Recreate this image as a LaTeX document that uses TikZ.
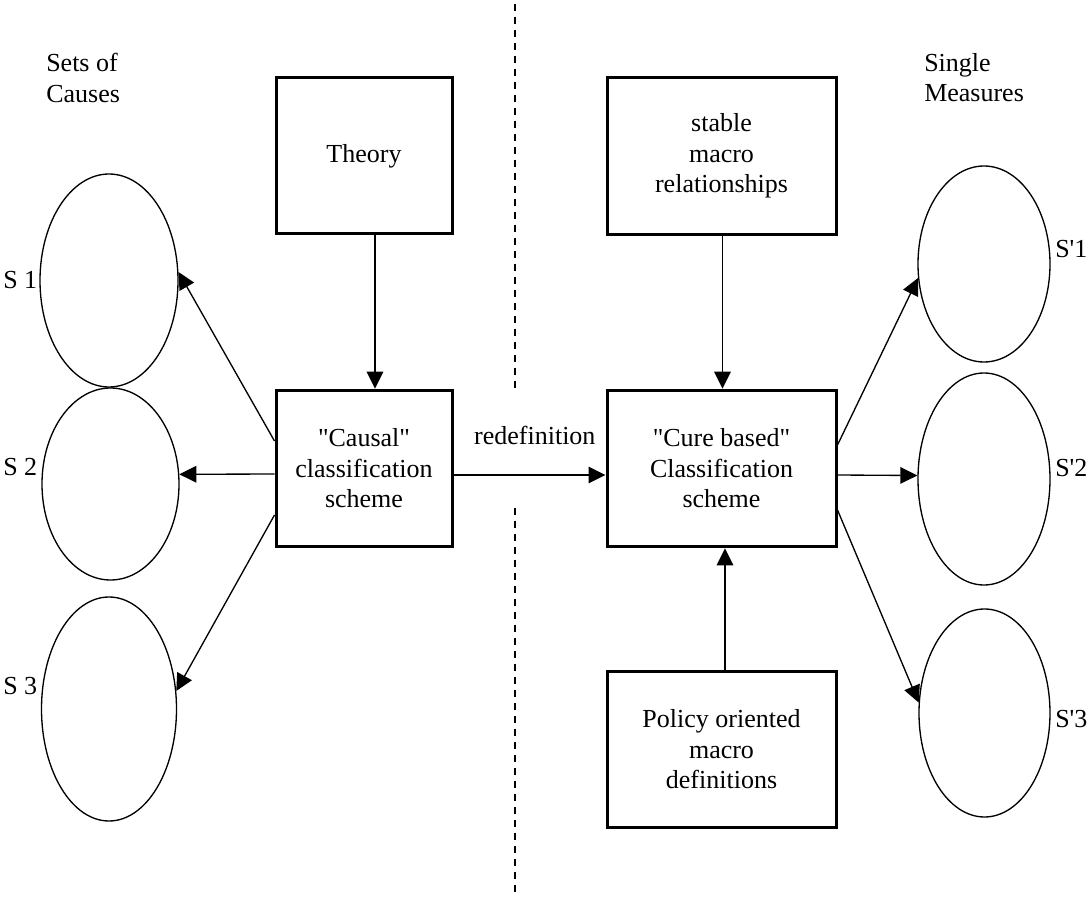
\documentclass[tikz,border=0pt]{standalone}
\usepackage{fontspec}
\setmainfont{Liberation Serif}
\usetikzlibrary{arrows.meta,calc,shapes.geometric}
\begin{document}
\begin{tikzpicture}[x=0.75pt,y=-0.75pt,
  every node/.style={font=\fontsize{19.5pt}{22.9pt}\selectfont},
  box/.style={draw, line width=2.25pt, rectangle, align=center, inner sep=0pt},
  narrowbox/.style={box, minimum width=132pt, minimum height=117pt},
  widebox/.style={box, minimum width=171.75pt, minimum height=117.5pt},
  oval/.style={draw, ellipse, line width=1pt, inner sep=0pt},
  conn/.style={line width=1pt, -{Triangle[length=12.75pt,width=12.4pt]}},
  divider/.style={line width=1.6pt, dash pattern=on 5.25pt off 4.5pt},
  lbl/.style={inner sep=0pt}
]
\useasboundingbox (0,0) rectangle (1090,898);

% divider
\coordinate (d1) at (515,4);
\coordinate (d2) at (515,393);
\coordinate (d3) at (515,508);
\coordinate (d4) at (515,898);
\draw[divider] (d1) -- (d2);
\draw[divider] (d3) -- (d4);

% boxes
\node[narrowbox] (theory) at (364,156) {Theory};
\node[narrowbox, minimum height=117.5pt] (causal) at (364,468.5) {\textquotedbl Causal\textquotedbl\\classification\\scheme};
\node[widebox] (stable) at (721.5,156) {stable\\macro\\relationships};
\node[widebox] (cure) at (721.5,468.5) {\textquotedbl Cure based\textquotedbl\\Classification\\scheme};
\node[widebox] (policy) at (721.5,749.5) {Policy oriented\\macro\\definitions};

% ellipses
\node[oval, minimum width=103.5pt, minimum height=159.75pt] (s1) at (109,280.5) {};
\node[oval, minimum width=102.75pt, minimum height=144pt] (s2) at (110.5,484) {};
\node[oval, minimum width=101.25pt, minimum height=168pt] (s3) at (109,709) {};
\node[oval, minimum width=99pt, minimum height=147pt] (sp1) at (984,264) {};
\node[oval, minimum width=99pt, minimum height=159pt] (sp2) at (984,479) {};
\node[oval, minimum width=98.25pt, minimum height=156pt] (sp3) at (984.5,713) {};

% labels
\node[lbl, anchor=north west, align=left] (setsof) at (46,53) {Sets of\\Causes};
\node[lbl, anchor=north west, align=left] (single) at (924,53) {Single\\Measures};
\node[lbl, anchor=base west] (l1) at (3,289) {S 1};
\node[lbl, anchor=base west] (l2) at (3,476) {S 2};
\node[lbl, anchor=base west] (l3) at (3,695) {S 3};
\node[lbl, anchor=base west] (lp1) at (1055,258) {S\textquotesingle 1};
\node[lbl, anchor=base west] (lp2) at (1055,477) {S\textquotesingle 2};
\node[lbl, anchor=base west] (lp3) at (1055,727) {S\textquotesingle 3};

% connectors
\draw[conn] ($(theory.south)+(11,0)$) -- ($(causal.north)+(11,0)$);
\draw[conn] ($(stable.south)+(1,0)$) -- ($(cure.north)+(1,0)$);
\draw[conn] ($(policy.north)+(3.5,0)$) -- ($(cure.south)+(3.5,0)$);
\draw[conn] ($(causal.east)+(0,6.5)$) -- ($(cure.west)+(0,6.5)$)
  node[lbl, pos=0.535, anchor=base, yshift=22.5pt] (redef) {redefinition};

\draw[conn] ($(causal.west)+(0,-27.5)$) -- (s1.7);
\draw[conn] ($(causal.west)+(0,5.5)$) -- (s2.8);
\draw[conn] ($(causal.west)+(0,46.5)$) -- (s3.15);

\draw[conn] ($(cure.east)+(0,-23.5)$) -- (sp1.192);
\draw[conn] ($(cure.east)+(0,6.5)$) -- (sp2.177);
\draw[conn] ($(cure.east)+(0,41.5)$) -- (sp3.171);
\end{tikzpicture}
\end{document}
